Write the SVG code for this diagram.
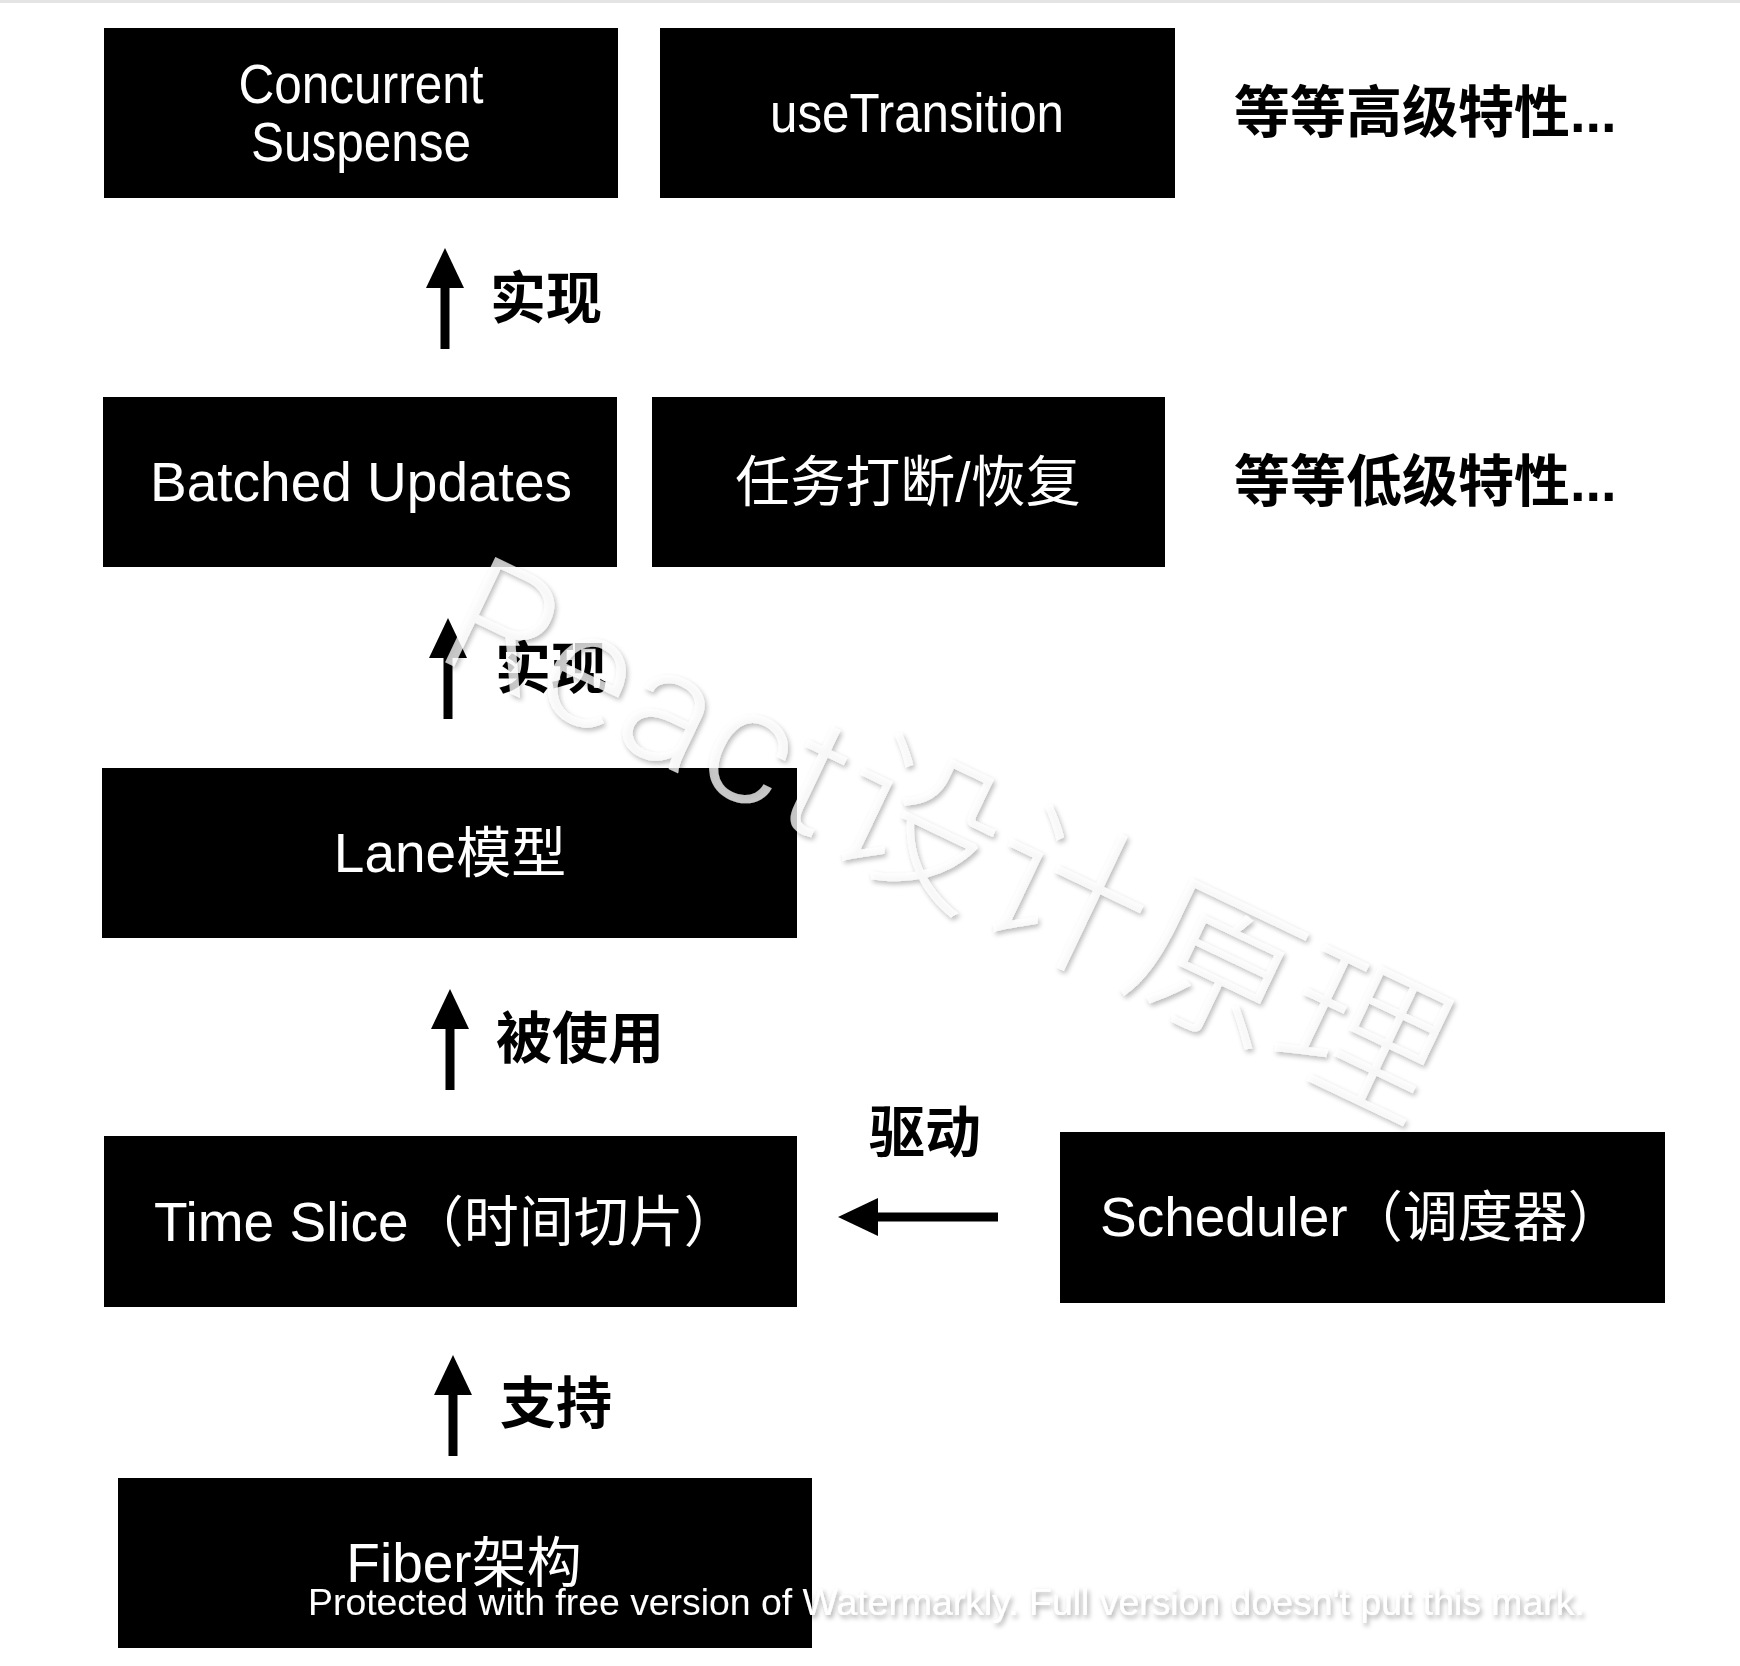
<svg xmlns="http://www.w3.org/2000/svg" width="1740" height="1666" viewBox="0 0 1740 1666">
<style>
.box{fill:#000}
.bt{fill:#fff;font-family:"Liberation Sans","Noto Sans CJK SC",sans-serif;font-size:55px}
.lbl{fill:#000;font-family:"Liberation Sans","Noto Sans CJK SC",sans-serif;font-size:56px;font-weight:bold}
.conn{stroke:#000;stroke-width:9;fill:none}
.wm{fill:#fff;fill-opacity:0.75;font-family:Roboto,"Noto Sans CJK SC",sans-serif;font-weight:300;font-size:164px}
.wm2{fill:#fff;font-family:"Liberation Sans",sans-serif;font-size:37.4px}
</style>
<defs>
<marker id="ah" viewBox="0 0 40 38" markerWidth="40" markerHeight="38" refX="2" refY="19" orient="auto" markerUnits="userSpaceOnUse">
<path d="M0,0 L40,19 L0,38 z" fill="#000"/>
</marker>
<filter id="sh" x="-10%" y="-10%" width="120%" height="130%">
<feDropShadow dx="2" dy="3" stdDeviation="2.5" flood-color="#000" flood-opacity="0.35"/>
</filter>
</defs>
<rect x="0" y="0" width="1740" height="1666" fill="#fff"/>
<rect x="0" y="0" width="1740" height="3" fill="#e4e4e4"/>

<g id="concurrent-suspense">
<rect class="box" x="104" y="28" width="514" height="170"/>
<text class="bt" x="361" y="103" font-size="49" text-anchor="middle" textLength="245" lengthAdjust="spacingAndGlyphs">Concurrent</text>
<text class="bt" x="361" y="161" font-size="49" text-anchor="middle" textLength="220" lengthAdjust="spacingAndGlyphs">Suspense</text>
</g>
<g id="use-transition">
<rect class="box" x="660" y="28" width="515" height="170"/>
<text class="bt" x="917" y="132" font-size="49" text-anchor="middle" textLength="294" lengthAdjust="spacingAndGlyphs">useTransition</text>
</g>
<g id="high-level-etc">
<text class="lbl" x="1234" y="132">等等高级特性...</text>
</g>

<g id="batched-updates">
<rect class="box" x="103" y="397" width="514" height="170"/>
<text class="bt" x="361" y="501" text-anchor="middle">Batched Updates</text>
</g>
<g id="interrupt-resume">
<rect class="box" x="652" y="397" width="513" height="170"/>
<text class="bt" x="908" y="501" text-anchor="middle">任务打断/恢复</text>
</g>
<g id="low-level-etc">
<text class="lbl" x="1234" y="501">等等低级特性...</text>
</g>

<g id="lane-model">
<rect class="box" x="102" y="768" width="695" height="170"/>
<text class="bt" x="450" y="872" text-anchor="middle">Lane模型</text>
</g>

<g id="time-slice">
<rect class="box" x="104" y="1136" width="693" height="171"/>
<text class="bt" x="154" y="1241">Time Slice（时间切片）</text>
</g>

<g id="scheduler">
<rect class="box" x="1060" y="1132" width="605" height="171"/>
<text class="bt" x="1100" y="1236">Scheduler（调度器）</text>
</g>

<g id="fiber">
<rect class="box" x="118" y="1478" width="694" height="170"/>
<text class="bt" x="464" y="1582" text-anchor="middle">Fiber架构</text>
</g>

<g id="connectors">
<line class="conn" x1="445" y1="349" x2="445" y2="286" marker-end="url(#ah)"/>
<text class="lbl" x="490" y="318">实现</text>
<line class="conn" x1="448" y1="719" x2="448" y2="656" marker-end="url(#ah)"/>
<text class="lbl" x="495" y="688">实现</text>
<line class="conn" x1="450" y1="1090" x2="450" y2="1027" marker-end="url(#ah)"/>
<text class="lbl" x="496" y="1058">被使用</text>
<line class="conn" x1="453" y1="1456" x2="453" y2="1393" marker-end="url(#ah)"/>
<text class="lbl" x="500" y="1423">支持</text>
<line class="conn" x1="998" y1="1217" x2="876" y2="1217" marker-end="url(#ah)"/>
<text class="lbl" x="869" y="1152">驱动</text>
</g>

<g id="watermarks" filter="url(#sh)">
<text class="wm" transform="translate(432,656) rotate(25.5)"><tspan letter-spacing="3">React</tspan>设计原理</text>
<text class="wm2" x="308" y="1615">Protected with free version of Watermarkly. Full version doesn't put this mark.</text>
</g>
</svg>
